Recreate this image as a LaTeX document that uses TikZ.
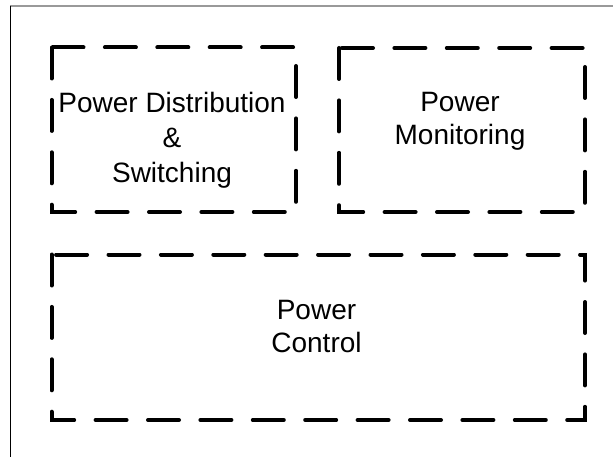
\documentclass[tikz,border=0pt]{standalone}
\usepackage{fontspec}
\setmainfont{Liberation Sans}
\begin{document}
\begin{tikzpicture}[x=1pt,y=-1pt,
  block/.style={draw=black, line width=4pt, line cap=round,
    dash pattern=on 31pt off 21.4pt},
  label/.style={anchor=north, inner sep=0pt, align=center, text=black}]
  \useasboundingbox (0,0) rectangle (613,457);
  % page frame
  \draw[gray!80, line width=1.2pt] (613,6) -- (10,6);
  \draw[black, line width=0.9pt] (10,6) -- (10,457);
  % block corners (top-left, bottom-right)
  \coordinate (distTL) at (51.5,47.5);  \coordinate (distBR) at (296,212);
  \coordinate (monTL)  at (339,48);     \coordinate (monBR)  at (585,212);
  \coordinate (ctrlTL) at (51.5,254.5); \coordinate (ctrlBR) at (585,420);
  % dashed blocks, each outline starting at its top-left corner
  \draw[block] (distTL) rectangle (distBR);
  \draw[block] (monTL) rectangle (monBR);
  \draw[block] (ctrlTL) rectangle (ctrlBR);
  % block titles
  \node[label, font=\fontsize{28}{35}\selectfont] (tdist) at (172,92) {Power Distribution\\\&\\Switching};
  \node[label, font=\fontsize{28}{33}\selectfont] (tmon) at (460,92) {Power\\Monitoring};
  \node[label, font=\fontsize{28}{33}\selectfont] (tctrl) at (316.5,300) {Power\\Control};
\end{tikzpicture}
\end{document}
